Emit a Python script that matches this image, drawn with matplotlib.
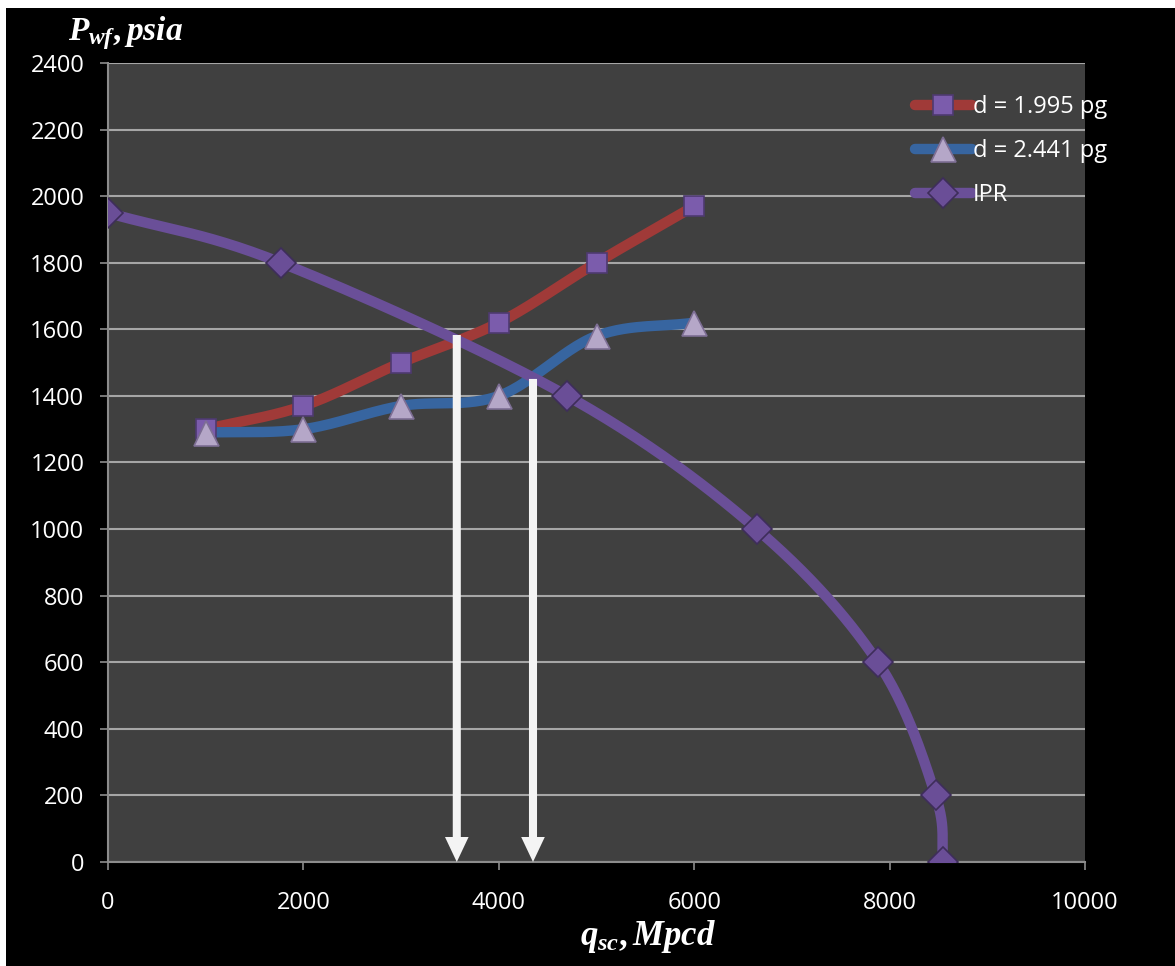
import numpy as np
import matplotlib
matplotlib.use("Agg")
import matplotlib.pyplot as plt
from matplotlib.patches import Rectangle

# data
q_small = [1000, 2000, 3000, 4000, 5000, 6000]
p_d1995 = [1300, 1370, 1500, 1620, 1800, 1970]
p_d2441 = [1290, 1300, 1370, 1400, 1580, 1620]
q_ipr = [0, 1770, 4700, 6640, 7880, 8470, 8550]
p_ipr = [1950, 1800, 1400, 1000, 600, 200, 0]
labels = ["d = 1.995 pg", "d = 2.441 pg", "IPR"]
# operating points (arrows)
q_op = [3570, 4350]
p_op = [1583, 1451]

plt.rcParams['mathtext.fontset'] = 'custom'
plt.rcParams['mathtext.it'] = 'Liberation Serif:bold:italic'
plt.rcParams['mathtext.rm'] = 'Liberation Serif:bold'
plt.rcParams['mathtext.bf'] = 'Liberation Serif:bold'
plt.rcParams['font.family'] = ['Open Sans', 'DejaVu Sans']

XMAX, YMAX = 10000, 2400


def smooth(x, y, n=30):
    # Excel-like smoothed line (Catmull-Rom) in normalised space
    x = np.asarray(x, float) / XMAX
    y = np.asarray(y, float) / YMAX
    px = np.concatenate([[2 * x[0] - x[1]], x, [2 * x[-1] - x[-2]]])
    py = np.concatenate([[2 * y[0] - y[1]], y, [2 * y[-1] - y[-2]]])
    xs, ys = [], []
    t = np.linspace(0, 1, n)
    for i in range(1, len(px) - 2):
        for p, out in ((px, xs), (py, ys)):
            p0, p1, p2, p3 = p[i - 1], p[i], p[i + 1], p[i + 2]
            c1 = p1 + (p2 - p0) / 6
            c2 = p2 - (p3 - p1) / 6
            out.extend((1 - t) ** 3 * p1 + 3 * (1 - t) ** 2 * t * c1
                       + 3 * (1 - t) * t ** 2 * c2 + t ** 3 * p2)
    return np.array(xs) * XMAX, np.array(ys) * YMAX


fig = plt.figure(figsize=(11.75, 9.66), dpi=100, facecolor='white')
fig.patches.append(Rectangle((6 / 1175, 0), 1, 1 - 8 / 966, transform=fig.transFigure,
                             facecolor='black', edgecolor='none', zorder=-10))
ax = fig.add_axes([108 / 1175, 1 - 862 / 966, 977 / 1175, 799 / 966])
ax.set_facecolor('#404040')

red = '#A03A38'
blue = '#3765A0'
purple = '#6A4F98'

series = [
    (q_small, p_d1995, red, 's', '#7B5CAC', '#4E3A70', 15),
    (q_small, p_d2441, blue, '^', '#B5A7C8', '#7D6E94', 18),
    (q_ipr, p_ipr, purple, 'D', '#6A4E97', '#3E2D5A', 15),
]
handles = []
for (q, p, c, m, fc, ec, ms), lab in zip(series, labels):
    sx, sy = smooth(q, p)
    ax.plot(sx, sy, color=c, lw=7.5, solid_capstyle='round', zorder=3)
    ax.plot(q, p, ls='none', marker=m, ms=ms, mfc=fc, mec=ec, mew=1.2, zorder=4)
    h, = ax.plot([], [], color=c, lw=7.5, solid_capstyle='round',
                 marker=m, ms=ms, mfc=fc, mec=ec, mew=1.2)
    handles.append(h)

for q, p in zip(q_op, p_op):
    ax.annotate('', xy=(q, 0), xytext=(q, p),
                arrowprops=dict(facecolor='#F4F4F4', edgecolor='none', width=5.8,
                                headwidth=17, headlength=18, shrink=0),
                zorder=6)

ax.set_xlim(0, XMAX)
ax.set_ylim(0, YMAX)
ax.set_xticks(range(0, 10001, 2000))
ax.set_yticks(range(0, 2401, 200))
ax.yaxis.grid(True, color='#A6A6A6', lw=1.5, zorder=1)
ax.set_axisbelow(True)
for s in ['top', 'right']:
    ax.spines[s].set_visible(False)
for s in ['left', 'bottom']:
    ax.spines[s].set_color('#8C8C8C')
    ax.spines[s].set_linewidth(1.5)
ax.tick_params(colors='#8C8C8C', labelcolor='white', labelsize=17, length=6,
               width=1.2, direction='out')
ax.tick_params(axis='y', pad=11)
ax.tick_params(axis='x', pad=15)

leg = ax.legend(handles, labels, loc='upper left', bbox_to_anchor=(0.826, 0.96),
                frameon=False, fontsize=17, handlelength=2.4, handletextpad=0.05,
                labelspacing=0.85, borderpad=0, borderaxespad=0)
for t in leg.get_texts():
    t.set_color('white')

fig.text(68 / 1175, 1 - 40 / 966, r'$P_{wf},psia$', color='white', fontsize=24,
         ha='left', va='baseline')
fig.text(648 / 1175, 1 - 945 / 966, r'$q_{sc},Mpcd$', color='white', fontsize=25,
         ha='center', va='baseline')

fig.savefig('out.png', dpi=100, facecolor=fig.get_facecolor())
